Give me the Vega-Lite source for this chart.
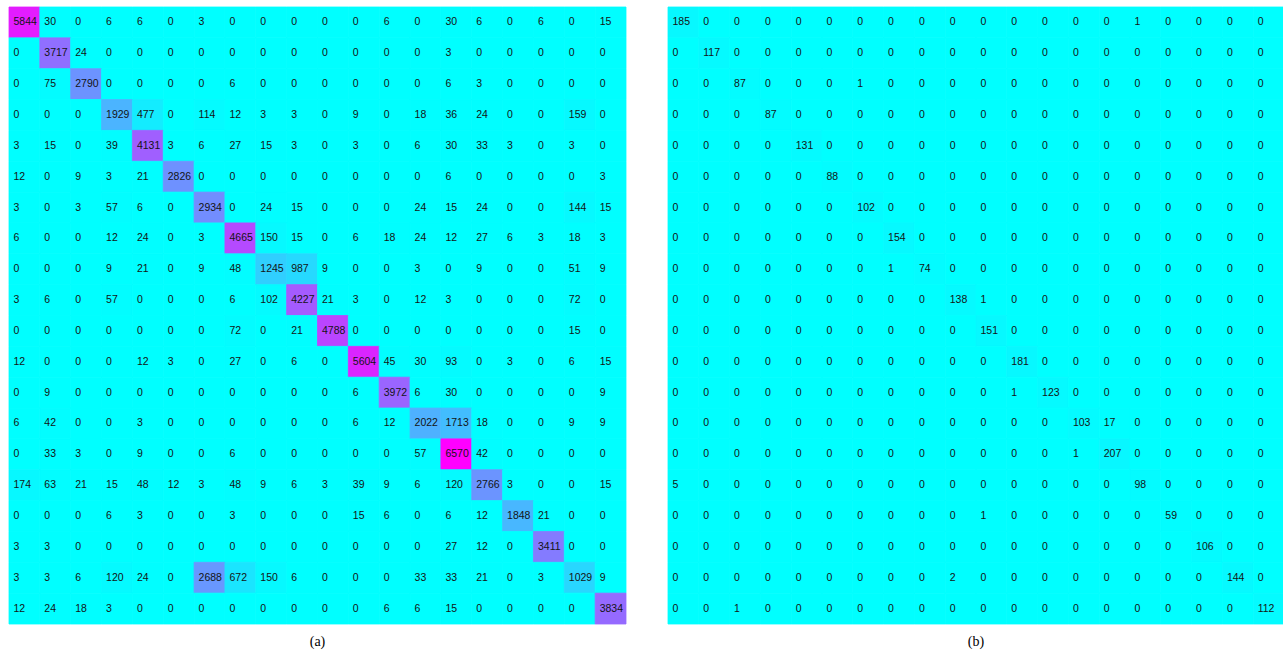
{
  "$schema": "https://vega.github.io/schema/vega-lite/v6.json",
  "background": "white",
  "padding": {"left": 8, "top": 6, "right": 0, "bottom": 0},
  "config": {"view": {"stroke": null}, "concat": {"spacing": 40}},
  "datasets": {
    "a": [
      {"r":1,"c":1,"v":5844},{"r":1,"c":2,"v":30},{"r":1,"c":3,"v":0},{"r":1,"c":4,"v":6},{"r":1,"c":5,"v":6},{"r":1,"c":6,"v":0},{"r":1,"c":7,"v":3},{"r":1,"c":8,"v":0},{"r":1,"c":9,"v":0},{"r":1,"c":10,"v":0},{"r":1,"c":11,"v":0},{"r":1,"c":12,"v":0},{"r":1,"c":13,"v":6},{"r":1,"c":14,"v":0},{"r":1,"c":15,"v":30},{"r":1,"c":16,"v":6},{"r":1,"c":17,"v":0},{"r":1,"c":18,"v":6},{"r":1,"c":19,"v":0},{"r":1,"c":20,"v":15},
      {"r":2,"c":1,"v":0},{"r":2,"c":2,"v":3717},{"r":2,"c":3,"v":24},{"r":2,"c":4,"v":0},{"r":2,"c":5,"v":0},{"r":2,"c":6,"v":0},{"r":2,"c":7,"v":0},{"r":2,"c":8,"v":0},{"r":2,"c":9,"v":0},{"r":2,"c":10,"v":0},{"r":2,"c":11,"v":0},{"r":2,"c":12,"v":0},{"r":2,"c":13,"v":0},{"r":2,"c":14,"v":0},{"r":2,"c":15,"v":3},{"r":2,"c":16,"v":0},{"r":2,"c":17,"v":0},{"r":2,"c":18,"v":0},{"r":2,"c":19,"v":0},{"r":2,"c":20,"v":0},
      {"r":3,"c":1,"v":0},{"r":3,"c":2,"v":75},{"r":3,"c":3,"v":2790},{"r":3,"c":4,"v":0},{"r":3,"c":5,"v":0},{"r":3,"c":6,"v":0},{"r":3,"c":7,"v":0},{"r":3,"c":8,"v":6},{"r":3,"c":9,"v":0},{"r":3,"c":10,"v":0},{"r":3,"c":11,"v":0},{"r":3,"c":12,"v":0},{"r":3,"c":13,"v":0},{"r":3,"c":14,"v":0},{"r":3,"c":15,"v":6},{"r":3,"c":16,"v":3},{"r":3,"c":17,"v":0},{"r":3,"c":18,"v":0},{"r":3,"c":19,"v":0},{"r":3,"c":20,"v":0},
      {"r":4,"c":1,"v":0},{"r":4,"c":2,"v":0},{"r":4,"c":3,"v":0},{"r":4,"c":4,"v":1929},{"r":4,"c":5,"v":477},{"r":4,"c":6,"v":0},{"r":4,"c":7,"v":114},{"r":4,"c":8,"v":12},{"r":4,"c":9,"v":3},{"r":4,"c":10,"v":3},{"r":4,"c":11,"v":0},{"r":4,"c":12,"v":9},{"r":4,"c":13,"v":0},{"r":4,"c":14,"v":18},{"r":4,"c":15,"v":36},{"r":4,"c":16,"v":24},{"r":4,"c":17,"v":0},{"r":4,"c":18,"v":0},{"r":4,"c":19,"v":159},{"r":4,"c":20,"v":0},
      {"r":5,"c":1,"v":3},{"r":5,"c":2,"v":15},{"r":5,"c":3,"v":0},{"r":5,"c":4,"v":39},{"r":5,"c":5,"v":4131},{"r":5,"c":6,"v":3},{"r":5,"c":7,"v":6},{"r":5,"c":8,"v":27},{"r":5,"c":9,"v":15},{"r":5,"c":10,"v":3},{"r":5,"c":11,"v":0},{"r":5,"c":12,"v":3},{"r":5,"c":13,"v":0},{"r":5,"c":14,"v":6},{"r":5,"c":15,"v":30},{"r":5,"c":16,"v":33},{"r":5,"c":17,"v":3},{"r":5,"c":18,"v":0},{"r":5,"c":19,"v":3},{"r":5,"c":20,"v":0},
      {"r":6,"c":1,"v":12},{"r":6,"c":2,"v":0},{"r":6,"c":3,"v":9},{"r":6,"c":4,"v":3},{"r":6,"c":5,"v":21},{"r":6,"c":6,"v":2826},{"r":6,"c":7,"v":0},{"r":6,"c":8,"v":0},{"r":6,"c":9,"v":0},{"r":6,"c":10,"v":0},{"r":6,"c":11,"v":0},{"r":6,"c":12,"v":0},{"r":6,"c":13,"v":0},{"r":6,"c":14,"v":0},{"r":6,"c":15,"v":6},{"r":6,"c":16,"v":0},{"r":6,"c":17,"v":0},{"r":6,"c":18,"v":0},{"r":6,"c":19,"v":0},{"r":6,"c":20,"v":3},
      {"r":7,"c":1,"v":3},{"r":7,"c":2,"v":0},{"r":7,"c":3,"v":3},{"r":7,"c":4,"v":57},{"r":7,"c":5,"v":6},{"r":7,"c":6,"v":0},{"r":7,"c":7,"v":2934},{"r":7,"c":8,"v":0},{"r":7,"c":9,"v":24},{"r":7,"c":10,"v":15},{"r":7,"c":11,"v":0},{"r":7,"c":12,"v":0},{"r":7,"c":13,"v":0},{"r":7,"c":14,"v":24},{"r":7,"c":15,"v":15},{"r":7,"c":16,"v":24},{"r":7,"c":17,"v":0},{"r":7,"c":18,"v":0},{"r":7,"c":19,"v":144},{"r":7,"c":20,"v":15},
      {"r":8,"c":1,"v":6},{"r":8,"c":2,"v":0},{"r":8,"c":3,"v":0},{"r":8,"c":4,"v":12},{"r":8,"c":5,"v":24},{"r":8,"c":6,"v":0},{"r":8,"c":7,"v":3},{"r":8,"c":8,"v":4665},{"r":8,"c":9,"v":150},{"r":8,"c":10,"v":15},{"r":8,"c":11,"v":0},{"r":8,"c":12,"v":6},{"r":8,"c":13,"v":18},{"r":8,"c":14,"v":24},{"r":8,"c":15,"v":12},{"r":8,"c":16,"v":27},{"r":8,"c":17,"v":6},{"r":8,"c":18,"v":3},{"r":8,"c":19,"v":18},{"r":8,"c":20,"v":3},
      {"r":9,"c":1,"v":0},{"r":9,"c":2,"v":0},{"r":9,"c":3,"v":0},{"r":9,"c":4,"v":9},{"r":9,"c":5,"v":21},{"r":9,"c":6,"v":0},{"r":9,"c":7,"v":9},{"r":9,"c":8,"v":48},{"r":9,"c":9,"v":1245},{"r":9,"c":10,"v":987},{"r":9,"c":11,"v":9},{"r":9,"c":12,"v":0},{"r":9,"c":13,"v":0},{"r":9,"c":14,"v":3},{"r":9,"c":15,"v":0},{"r":9,"c":16,"v":9},{"r":9,"c":17,"v":0},{"r":9,"c":18,"v":0},{"r":9,"c":19,"v":51},{"r":9,"c":20,"v":9},
      {"r":10,"c":1,"v":3},{"r":10,"c":2,"v":6},{"r":10,"c":3,"v":0},{"r":10,"c":4,"v":57},{"r":10,"c":5,"v":0},{"r":10,"c":6,"v":0},{"r":10,"c":7,"v":0},{"r":10,"c":8,"v":6},{"r":10,"c":9,"v":102},{"r":10,"c":10,"v":4227},{"r":10,"c":11,"v":21},{"r":10,"c":12,"v":3},{"r":10,"c":13,"v":0},{"r":10,"c":14,"v":12},{"r":10,"c":15,"v":3},{"r":10,"c":16,"v":0},{"r":10,"c":17,"v":0},{"r":10,"c":18,"v":0},{"r":10,"c":19,"v":72},{"r":10,"c":20,"v":0},
      {"r":11,"c":1,"v":0},{"r":11,"c":2,"v":0},{"r":11,"c":3,"v":0},{"r":11,"c":4,"v":0},{"r":11,"c":5,"v":0},{"r":11,"c":6,"v":0},{"r":11,"c":7,"v":0},{"r":11,"c":8,"v":72},{"r":11,"c":9,"v":0},{"r":11,"c":10,"v":21},{"r":11,"c":11,"v":4788},{"r":11,"c":12,"v":0},{"r":11,"c":13,"v":0},{"r":11,"c":14,"v":0},{"r":11,"c":15,"v":0},{"r":11,"c":16,"v":0},{"r":11,"c":17,"v":0},{"r":11,"c":18,"v":0},{"r":11,"c":19,"v":15},{"r":11,"c":20,"v":0},
      {"r":12,"c":1,"v":12},{"r":12,"c":2,"v":0},{"r":12,"c":3,"v":0},{"r":12,"c":4,"v":0},{"r":12,"c":5,"v":12},{"r":12,"c":6,"v":3},{"r":12,"c":7,"v":0},{"r":12,"c":8,"v":27},{"r":12,"c":9,"v":0},{"r":12,"c":10,"v":6},{"r":12,"c":11,"v":0},{"r":12,"c":12,"v":5604},{"r":12,"c":13,"v":45},{"r":12,"c":14,"v":30},{"r":12,"c":15,"v":93},{"r":12,"c":16,"v":0},{"r":12,"c":17,"v":3},{"r":12,"c":18,"v":0},{"r":12,"c":19,"v":6},{"r":12,"c":20,"v":15},
      {"r":13,"c":1,"v":0},{"r":13,"c":2,"v":9},{"r":13,"c":3,"v":0},{"r":13,"c":4,"v":0},{"r":13,"c":5,"v":0},{"r":13,"c":6,"v":0},{"r":13,"c":7,"v":0},{"r":13,"c":8,"v":0},{"r":13,"c":9,"v":0},{"r":13,"c":10,"v":0},{"r":13,"c":11,"v":0},{"r":13,"c":12,"v":6},{"r":13,"c":13,"v":3972},{"r":13,"c":14,"v":6},{"r":13,"c":15,"v":30},{"r":13,"c":16,"v":0},{"r":13,"c":17,"v":0},{"r":13,"c":18,"v":0},{"r":13,"c":19,"v":0},{"r":13,"c":20,"v":9},
      {"r":14,"c":1,"v":6},{"r":14,"c":2,"v":42},{"r":14,"c":3,"v":0},{"r":14,"c":4,"v":0},{"r":14,"c":5,"v":3},{"r":14,"c":6,"v":0},{"r":14,"c":7,"v":0},{"r":14,"c":8,"v":0},{"r":14,"c":9,"v":0},{"r":14,"c":10,"v":0},{"r":14,"c":11,"v":0},{"r":14,"c":12,"v":6},{"r":14,"c":13,"v":12},{"r":14,"c":14,"v":2022},{"r":14,"c":15,"v":1713},{"r":14,"c":16,"v":18},{"r":14,"c":17,"v":0},{"r":14,"c":18,"v":0},{"r":14,"c":19,"v":9},{"r":14,"c":20,"v":9},
      {"r":15,"c":1,"v":0},{"r":15,"c":2,"v":33},{"r":15,"c":3,"v":3},{"r":15,"c":4,"v":0},{"r":15,"c":5,"v":9},{"r":15,"c":6,"v":0},{"r":15,"c":7,"v":0},{"r":15,"c":8,"v":6},{"r":15,"c":9,"v":0},{"r":15,"c":10,"v":0},{"r":15,"c":11,"v":0},{"r":15,"c":12,"v":0},{"r":15,"c":13,"v":0},{"r":15,"c":14,"v":57},{"r":15,"c":15,"v":6570},{"r":15,"c":16,"v":42},{"r":15,"c":17,"v":0},{"r":15,"c":18,"v":0},{"r":15,"c":19,"v":0},{"r":15,"c":20,"v":0},
      {"r":16,"c":1,"v":174},{"r":16,"c":2,"v":63},{"r":16,"c":3,"v":21},{"r":16,"c":4,"v":15},{"r":16,"c":5,"v":48},{"r":16,"c":6,"v":12},{"r":16,"c":7,"v":3},{"r":16,"c":8,"v":48},{"r":16,"c":9,"v":9},{"r":16,"c":10,"v":6},{"r":16,"c":11,"v":3},{"r":16,"c":12,"v":39},{"r":16,"c":13,"v":9},{"r":16,"c":14,"v":6},{"r":16,"c":15,"v":120},{"r":16,"c":16,"v":2766},{"r":16,"c":17,"v":3},{"r":16,"c":18,"v":0},{"r":16,"c":19,"v":0},{"r":16,"c":20,"v":15},
      {"r":17,"c":1,"v":0},{"r":17,"c":2,"v":0},{"r":17,"c":3,"v":0},{"r":17,"c":4,"v":6},{"r":17,"c":5,"v":3},{"r":17,"c":6,"v":0},{"r":17,"c":7,"v":0},{"r":17,"c":8,"v":3},{"r":17,"c":9,"v":0},{"r":17,"c":10,"v":0},{"r":17,"c":11,"v":0},{"r":17,"c":12,"v":15},{"r":17,"c":13,"v":6},{"r":17,"c":14,"v":0},{"r":17,"c":15,"v":6},{"r":17,"c":16,"v":12},{"r":17,"c":17,"v":1848},{"r":17,"c":18,"v":21},{"r":17,"c":19,"v":0},{"r":17,"c":20,"v":0},
      {"r":18,"c":1,"v":3},{"r":18,"c":2,"v":3},{"r":18,"c":3,"v":0},{"r":18,"c":4,"v":0},{"r":18,"c":5,"v":0},{"r":18,"c":6,"v":0},{"r":18,"c":7,"v":0},{"r":18,"c":8,"v":0},{"r":18,"c":9,"v":0},{"r":18,"c":10,"v":0},{"r":18,"c":11,"v":0},{"r":18,"c":12,"v":0},{"r":18,"c":13,"v":0},{"r":18,"c":14,"v":0},{"r":18,"c":15,"v":27},{"r":18,"c":16,"v":12},{"r":18,"c":17,"v":0},{"r":18,"c":18,"v":3411},{"r":18,"c":19,"v":0},{"r":18,"c":20,"v":0},
      {"r":19,"c":1,"v":3},{"r":19,"c":2,"v":3},{"r":19,"c":3,"v":6},{"r":19,"c":4,"v":120},{"r":19,"c":5,"v":24},{"r":19,"c":6,"v":0},{"r":19,"c":7,"v":2688},{"r":19,"c":8,"v":672},{"r":19,"c":9,"v":150},{"r":19,"c":10,"v":6},{"r":19,"c":11,"v":0},{"r":19,"c":12,"v":0},{"r":19,"c":13,"v":0},{"r":19,"c":14,"v":33},{"r":19,"c":15,"v":33},{"r":19,"c":16,"v":21},{"r":19,"c":17,"v":0},{"r":19,"c":18,"v":3},{"r":19,"c":19,"v":1029},{"r":19,"c":20,"v":9},
      {"r":20,"c":1,"v":12},{"r":20,"c":2,"v":24},{"r":20,"c":3,"v":18},{"r":20,"c":4,"v":3},{"r":20,"c":5,"v":0},{"r":20,"c":6,"v":0},{"r":20,"c":7,"v":0},{"r":20,"c":8,"v":0},{"r":20,"c":9,"v":0},{"r":20,"c":10,"v":0},{"r":20,"c":11,"v":0},{"r":20,"c":12,"v":0},{"r":20,"c":13,"v":6},{"r":20,"c":14,"v":6},{"r":20,"c":15,"v":15},{"r":20,"c":16,"v":0},{"r":20,"c":17,"v":0},{"r":20,"c":18,"v":0},{"r":20,"c":19,"v":0},{"r":20,"c":20,"v":3834}
    ],
    "b": [
      {"r":1,"c":1,"v":185},{"r":1,"c":2,"v":0},{"r":1,"c":3,"v":0},{"r":1,"c":4,"v":0},{"r":1,"c":5,"v":0},{"r":1,"c":6,"v":0},{"r":1,"c":7,"v":0},{"r":1,"c":8,"v":0},{"r":1,"c":9,"v":0},{"r":1,"c":10,"v":0},{"r":1,"c":11,"v":0},{"r":1,"c":12,"v":0},{"r":1,"c":13,"v":0},{"r":1,"c":14,"v":0},{"r":1,"c":15,"v":0},{"r":1,"c":16,"v":1},{"r":1,"c":17,"v":0},{"r":1,"c":18,"v":0},{"r":1,"c":19,"v":0},{"r":1,"c":20,"v":0},
      {"r":2,"c":1,"v":0},{"r":2,"c":2,"v":117},{"r":2,"c":3,"v":0},{"r":2,"c":4,"v":0},{"r":2,"c":5,"v":0},{"r":2,"c":6,"v":0},{"r":2,"c":7,"v":0},{"r":2,"c":8,"v":0},{"r":2,"c":9,"v":0},{"r":2,"c":10,"v":0},{"r":2,"c":11,"v":0},{"r":2,"c":12,"v":0},{"r":2,"c":13,"v":0},{"r":2,"c":14,"v":0},{"r":2,"c":15,"v":0},{"r":2,"c":16,"v":0},{"r":2,"c":17,"v":0},{"r":2,"c":18,"v":0},{"r":2,"c":19,"v":0},{"r":2,"c":20,"v":0},
      {"r":3,"c":1,"v":0},{"r":3,"c":2,"v":0},{"r":3,"c":3,"v":87},{"r":3,"c":4,"v":0},{"r":3,"c":5,"v":0},{"r":3,"c":6,"v":0},{"r":3,"c":7,"v":1},{"r":3,"c":8,"v":0},{"r":3,"c":9,"v":0},{"r":3,"c":10,"v":0},{"r":3,"c":11,"v":0},{"r":3,"c":12,"v":0},{"r":3,"c":13,"v":0},{"r":3,"c":14,"v":0},{"r":3,"c":15,"v":0},{"r":3,"c":16,"v":0},{"r":3,"c":17,"v":0},{"r":3,"c":18,"v":0},{"r":3,"c":19,"v":0},{"r":3,"c":20,"v":0},
      {"r":4,"c":1,"v":0},{"r":4,"c":2,"v":0},{"r":4,"c":3,"v":0},{"r":4,"c":4,"v":87},{"r":4,"c":5,"v":0},{"r":4,"c":6,"v":0},{"r":4,"c":7,"v":0},{"r":4,"c":8,"v":0},{"r":4,"c":9,"v":0},{"r":4,"c":10,"v":0},{"r":4,"c":11,"v":0},{"r":4,"c":12,"v":0},{"r":4,"c":13,"v":0},{"r":4,"c":14,"v":0},{"r":4,"c":15,"v":0},{"r":4,"c":16,"v":0},{"r":4,"c":17,"v":0},{"r":4,"c":18,"v":0},{"r":4,"c":19,"v":0},{"r":4,"c":20,"v":0},
      {"r":5,"c":1,"v":0},{"r":5,"c":2,"v":0},{"r":5,"c":3,"v":0},{"r":5,"c":4,"v":0},{"r":5,"c":5,"v":131},{"r":5,"c":6,"v":0},{"r":5,"c":7,"v":0},{"r":5,"c":8,"v":0},{"r":5,"c":9,"v":0},{"r":5,"c":10,"v":0},{"r":5,"c":11,"v":0},{"r":5,"c":12,"v":0},{"r":5,"c":13,"v":0},{"r":5,"c":14,"v":0},{"r":5,"c":15,"v":0},{"r":5,"c":16,"v":0},{"r":5,"c":17,"v":0},{"r":5,"c":18,"v":0},{"r":5,"c":19,"v":0},{"r":5,"c":20,"v":0},
      {"r":6,"c":1,"v":0},{"r":6,"c":2,"v":0},{"r":6,"c":3,"v":0},{"r":6,"c":4,"v":0},{"r":6,"c":5,"v":0},{"r":6,"c":6,"v":88},{"r":6,"c":7,"v":0},{"r":6,"c":8,"v":0},{"r":6,"c":9,"v":0},{"r":6,"c":10,"v":0},{"r":6,"c":11,"v":0},{"r":6,"c":12,"v":0},{"r":6,"c":13,"v":0},{"r":6,"c":14,"v":0},{"r":6,"c":15,"v":0},{"r":6,"c":16,"v":0},{"r":6,"c":17,"v":0},{"r":6,"c":18,"v":0},{"r":6,"c":19,"v":0},{"r":6,"c":20,"v":0},
      {"r":7,"c":1,"v":0},{"r":7,"c":2,"v":0},{"r":7,"c":3,"v":0},{"r":7,"c":4,"v":0},{"r":7,"c":5,"v":0},{"r":7,"c":6,"v":0},{"r":7,"c":7,"v":102},{"r":7,"c":8,"v":0},{"r":7,"c":9,"v":0},{"r":7,"c":10,"v":0},{"r":7,"c":11,"v":0},{"r":7,"c":12,"v":0},{"r":7,"c":13,"v":0},{"r":7,"c":14,"v":0},{"r":7,"c":15,"v":0},{"r":7,"c":16,"v":0},{"r":7,"c":17,"v":0},{"r":7,"c":18,"v":0},{"r":7,"c":19,"v":0},{"r":7,"c":20,"v":0},
      {"r":8,"c":1,"v":0},{"r":8,"c":2,"v":0},{"r":8,"c":3,"v":0},{"r":8,"c":4,"v":0},{"r":8,"c":5,"v":0},{"r":8,"c":6,"v":0},{"r":8,"c":7,"v":0},{"r":8,"c":8,"v":154},{"r":8,"c":9,"v":0},{"r":8,"c":10,"v":0},{"r":8,"c":11,"v":0},{"r":8,"c":12,"v":0},{"r":8,"c":13,"v":0},{"r":8,"c":14,"v":0},{"r":8,"c":15,"v":0},{"r":8,"c":16,"v":0},{"r":8,"c":17,"v":0},{"r":8,"c":18,"v":0},{"r":8,"c":19,"v":0},{"r":8,"c":20,"v":0},
      {"r":9,"c":1,"v":0},{"r":9,"c":2,"v":0},{"r":9,"c":3,"v":0},{"r":9,"c":4,"v":0},{"r":9,"c":5,"v":0},{"r":9,"c":6,"v":0},{"r":9,"c":7,"v":0},{"r":9,"c":8,"v":1},{"r":9,"c":9,"v":74},{"r":9,"c":10,"v":0},{"r":9,"c":11,"v":0},{"r":9,"c":12,"v":0},{"r":9,"c":13,"v":0},{"r":9,"c":14,"v":0},{"r":9,"c":15,"v":0},{"r":9,"c":16,"v":0},{"r":9,"c":17,"v":0},{"r":9,"c":18,"v":0},{"r":9,"c":19,"v":0},{"r":9,"c":20,"v":0},
      {"r":10,"c":1,"v":0},{"r":10,"c":2,"v":0},{"r":10,"c":3,"v":0},{"r":10,"c":4,"v":0},{"r":10,"c":5,"v":0},{"r":10,"c":6,"v":0},{"r":10,"c":7,"v":0},{"r":10,"c":8,"v":0},{"r":10,"c":9,"v":0},{"r":10,"c":10,"v":138},{"r":10,"c":11,"v":1},{"r":10,"c":12,"v":0},{"r":10,"c":13,"v":0},{"r":10,"c":14,"v":0},{"r":10,"c":15,"v":0},{"r":10,"c":16,"v":0},{"r":10,"c":17,"v":0},{"r":10,"c":18,"v":0},{"r":10,"c":19,"v":0},{"r":10,"c":20,"v":0},
      {"r":11,"c":1,"v":0},{"r":11,"c":2,"v":0},{"r":11,"c":3,"v":0},{"r":11,"c":4,"v":0},{"r":11,"c":5,"v":0},{"r":11,"c":6,"v":0},{"r":11,"c":7,"v":0},{"r":11,"c":8,"v":0},{"r":11,"c":9,"v":0},{"r":11,"c":10,"v":0},{"r":11,"c":11,"v":151},{"r":11,"c":12,"v":0},{"r":11,"c":13,"v":0},{"r":11,"c":14,"v":0},{"r":11,"c":15,"v":0},{"r":11,"c":16,"v":0},{"r":11,"c":17,"v":0},{"r":11,"c":18,"v":0},{"r":11,"c":19,"v":0},{"r":11,"c":20,"v":0},
      {"r":12,"c":1,"v":0},{"r":12,"c":2,"v":0},{"r":12,"c":3,"v":0},{"r":12,"c":4,"v":0},{"r":12,"c":5,"v":0},{"r":12,"c":6,"v":0},{"r":12,"c":7,"v":0},{"r":12,"c":8,"v":0},{"r":12,"c":9,"v":0},{"r":12,"c":10,"v":0},{"r":12,"c":11,"v":0},{"r":12,"c":12,"v":181},{"r":12,"c":13,"v":0},{"r":12,"c":14,"v":0},{"r":12,"c":15,"v":0},{"r":12,"c":16,"v":0},{"r":12,"c":17,"v":0},{"r":12,"c":18,"v":0},{"r":12,"c":19,"v":0},{"r":12,"c":20,"v":0},
      {"r":13,"c":1,"v":0},{"r":13,"c":2,"v":0},{"r":13,"c":3,"v":0},{"r":13,"c":4,"v":0},{"r":13,"c":5,"v":0},{"r":13,"c":6,"v":0},{"r":13,"c":7,"v":0},{"r":13,"c":8,"v":0},{"r":13,"c":9,"v":0},{"r":13,"c":10,"v":0},{"r":13,"c":11,"v":0},{"r":13,"c":12,"v":1},{"r":13,"c":13,"v":123},{"r":13,"c":14,"v":0},{"r":13,"c":15,"v":0},{"r":13,"c":16,"v":0},{"r":13,"c":17,"v":0},{"r":13,"c":18,"v":0},{"r":13,"c":19,"v":0},{"r":13,"c":20,"v":0},
      {"r":14,"c":1,"v":0},{"r":14,"c":2,"v":0},{"r":14,"c":3,"v":0},{"r":14,"c":4,"v":0},{"r":14,"c":5,"v":0},{"r":14,"c":6,"v":0},{"r":14,"c":7,"v":0},{"r":14,"c":8,"v":0},{"r":14,"c":9,"v":0},{"r":14,"c":10,"v":0},{"r":14,"c":11,"v":0},{"r":14,"c":12,"v":0},{"r":14,"c":13,"v":0},{"r":14,"c":14,"v":103},{"r":14,"c":15,"v":17},{"r":14,"c":16,"v":0},{"r":14,"c":17,"v":0},{"r":14,"c":18,"v":0},{"r":14,"c":19,"v":0},{"r":14,"c":20,"v":0},
      {"r":15,"c":1,"v":0},{"r":15,"c":2,"v":0},{"r":15,"c":3,"v":0},{"r":15,"c":4,"v":0},{"r":15,"c":5,"v":0},{"r":15,"c":6,"v":0},{"r":15,"c":7,"v":0},{"r":15,"c":8,"v":0},{"r":15,"c":9,"v":0},{"r":15,"c":10,"v":0},{"r":15,"c":11,"v":0},{"r":15,"c":12,"v":0},{"r":15,"c":13,"v":0},{"r":15,"c":14,"v":1},{"r":15,"c":15,"v":207},{"r":15,"c":16,"v":0},{"r":15,"c":17,"v":0},{"r":15,"c":18,"v":0},{"r":15,"c":19,"v":0},{"r":15,"c":20,"v":0},
      {"r":16,"c":1,"v":5},{"r":16,"c":2,"v":0},{"r":16,"c":3,"v":0},{"r":16,"c":4,"v":0},{"r":16,"c":5,"v":0},{"r":16,"c":6,"v":0},{"r":16,"c":7,"v":0},{"r":16,"c":8,"v":0},{"r":16,"c":9,"v":0},{"r":16,"c":10,"v":0},{"r":16,"c":11,"v":0},{"r":16,"c":12,"v":0},{"r":16,"c":13,"v":0},{"r":16,"c":14,"v":0},{"r":16,"c":15,"v":0},{"r":16,"c":16,"v":98},{"r":16,"c":17,"v":0},{"r":16,"c":18,"v":0},{"r":16,"c":19,"v":0},{"r":16,"c":20,"v":0},
      {"r":17,"c":1,"v":0},{"r":17,"c":2,"v":0},{"r":17,"c":3,"v":0},{"r":17,"c":4,"v":0},{"r":17,"c":5,"v":0},{"r":17,"c":6,"v":0},{"r":17,"c":7,"v":0},{"r":17,"c":8,"v":0},{"r":17,"c":9,"v":0},{"r":17,"c":10,"v":0},{"r":17,"c":11,"v":1},{"r":17,"c":12,"v":0},{"r":17,"c":13,"v":0},{"r":17,"c":14,"v":0},{"r":17,"c":15,"v":0},{"r":17,"c":16,"v":0},{"r":17,"c":17,"v":59},{"r":17,"c":18,"v":0},{"r":17,"c":19,"v":0},{"r":17,"c":20,"v":0},
      {"r":18,"c":1,"v":0},{"r":18,"c":2,"v":0},{"r":18,"c":3,"v":0},{"r":18,"c":4,"v":0},{"r":18,"c":5,"v":0},{"r":18,"c":6,"v":0},{"r":18,"c":7,"v":0},{"r":18,"c":8,"v":0},{"r":18,"c":9,"v":0},{"r":18,"c":10,"v":0},{"r":18,"c":11,"v":0},{"r":18,"c":12,"v":0},{"r":18,"c":13,"v":0},{"r":18,"c":14,"v":0},{"r":18,"c":15,"v":0},{"r":18,"c":16,"v":0},{"r":18,"c":17,"v":0},{"r":18,"c":18,"v":106},{"r":18,"c":19,"v":0},{"r":18,"c":20,"v":0},
      {"r":19,"c":1,"v":0},{"r":19,"c":2,"v":0},{"r":19,"c":3,"v":0},{"r":19,"c":4,"v":0},{"r":19,"c":5,"v":0},{"r":19,"c":6,"v":0},{"r":19,"c":7,"v":0},{"r":19,"c":8,"v":0},{"r":19,"c":9,"v":0},{"r":19,"c":10,"v":2},{"r":19,"c":11,"v":0},{"r":19,"c":12,"v":0},{"r":19,"c":13,"v":0},{"r":19,"c":14,"v":0},{"r":19,"c":15,"v":0},{"r":19,"c":16,"v":0},{"r":19,"c":17,"v":0},{"r":19,"c":18,"v":0},{"r":19,"c":19,"v":144},{"r":19,"c":20,"v":0},
      {"r":20,"c":1,"v":0},{"r":20,"c":2,"v":0},{"r":20,"c":3,"v":1},{"r":20,"c":4,"v":0},{"r":20,"c":5,"v":0},{"r":20,"c":6,"v":0},{"r":20,"c":7,"v":0},{"r":20,"c":8,"v":0},{"r":20,"c":9,"v":0},{"r":20,"c":10,"v":0},{"r":20,"c":11,"v":0},{"r":20,"c":12,"v":0},{"r":20,"c":13,"v":0},{"r":20,"c":14,"v":0},{"r":20,"c":15,"v":0},{"r":20,"c":16,"v":0},{"r":20,"c":17,"v":0},{"r":20,"c":18,"v":0},{"r":20,"c":19,"v":0},{"r":20,"c":20,"v":112}
    ]
  },
  "hconcat": [
    {
      "width": 617,
      "height": 617,
      "data": {"name": "a"},
      "title": {"text": "(a)", "orient": "bottom", "anchor": "middle", "font": "Times New Roman, Liberation Serif, serif", "fontSize": 14, "fontWeight": "normal", "color": "#000000", "offset": 11},
      "encoding": {
        "x": {"field": "c", "type": "ordinal", "axis": null, "scale": {"paddingInner": 0, "paddingOuter": 0}},
        "y": {"field": "r", "type": "ordinal", "axis": null, "scale": {"paddingInner": 0, "paddingOuter": 0}}
      },
      "layer": [
        {
          "mark": {"type": "rect", "strokeWidth": 0.8},
          "encoding": {
            "color": {"field": "v", "type": "quantitative", "legend": null,
              "scale": {"domain": [0, 6570], "range": ["#00ffff", "#ff00ff"], "interpolate": "rgb"}},
            "stroke": {"field": "v", "type": "quantitative", "legend": null,
              "scale": {"domain": [0, 6570], "range": ["#00ffff", "#ff00ff"], "interpolate": "rgb"}}
          }
        },
        {
          "mark": {"type": "text", "align": "left", "baseline": "middle", "dx": 4.5, "font": "Arial, Liberation Sans, Helvetica, sans-serif", "fontSize": 10.5, "color": "#141414"},
          "encoding": {
            "x": {"field": "c", "type": "ordinal", "bandPosition": 0},
            "text": {"field": "v", "type": "quantitative"}
          }
        }
      ]
    },
    {
      "width": 616,
      "height": 617,
      "data": {"name": "b"},
      "title": {"text": "(b)", "orient": "bottom", "anchor": "middle", "font": "Times New Roman, Liberation Serif, serif", "fontSize": 14, "fontWeight": "normal", "color": "#000000", "offset": 11},
      "encoding": {
        "x": {"field": "c", "type": "ordinal", "axis": null, "scale": {"paddingInner": 0, "paddingOuter": 0}},
        "y": {"field": "r", "type": "ordinal", "axis": null, "scale": {"paddingInner": 0, "paddingOuter": 0}}
      },
      "layer": [
        {
          "mark": {"type": "rect", "strokeWidth": 0.8},
          "encoding": {
            "color": {"field": "v", "type": "quantitative", "legend": null,
              "scale": {"domain": [0, 207], "range": ["#00ffff", "#ff00ff"], "interpolate": "rgb"}},
            "stroke": {"field": "v", "type": "quantitative", "legend": null,
              "scale": {"domain": [0, 207], "range": ["#00ffff", "#ff00ff"], "interpolate": "rgb"}}
          }
        },
        {
          "mark": {"type": "text", "align": "left", "baseline": "middle", "dx": 4.5, "font": "Arial, Liberation Sans, Helvetica, sans-serif", "fontSize": 10.5, "color": "#141414"},
          "encoding": {
            "x": {"field": "c", "type": "ordinal", "bandPosition": 0},
            "text": {"field": "v", "type": "quantitative"}
          }
        }
      ]
    }
  ]
}
